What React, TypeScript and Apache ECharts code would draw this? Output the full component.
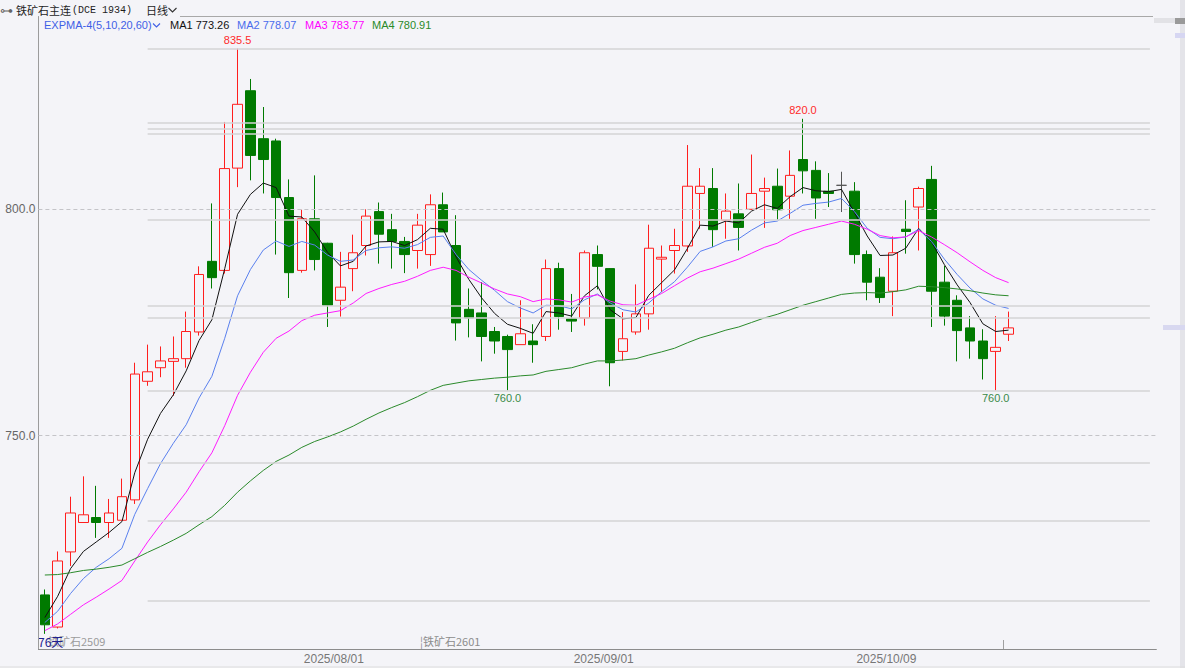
import React, { useEffect, useRef } from 'react';
import * as echarts from 'echarts';

// ---- categories (trading days) ----
const dates = [
  '2025/07/01','2025/07/02','2025/07/03','2025/07/04','2025/07/07','2025/07/08','2025/07/09','2025/07/10','2025/07/11','2025/07/14',
  '2025/07/15','2025/07/16','2025/07/17','2025/07/18','2025/07/21','2025/07/22','2025/07/23','2025/07/24','2025/07/25','2025/07/28',
  '2025/07/29','2025/07/30','2025/07/31','2025/08/01','2025/08/04','2025/08/05','2025/08/06','2025/08/07','2025/08/08','2025/08/11',
  '2025/08/12','2025/08/13','2025/08/14','2025/08/15','2025/08/18','2025/08/19','2025/08/20','2025/08/21','2025/08/22','2025/08/25',
  '2025/08/26','2025/08/27','2025/08/28','2025/08/29','2025/09/01','2025/09/02','2025/09/03','2025/09/04','2025/09/05','2025/09/08',
  '2025/09/09','2025/09/10','2025/09/11','2025/09/12','2025/09/15','2025/09/16','2025/09/17','2025/09/18','2025/09/19','2025/09/22',
  '2025/09/23','2025/09/24','2025/09/25','2025/09/26','2025/09/29','2025/09/30','2025/10/09','2025/10/10','2025/10/13','2025/10/14',
  '2025/10/15','2025/10/16','2025/10/17','2025/10/20','2025/10/21','2025/10/22'
];
// empty future slots on the right of the chart
const futureDates = ['2025/10/23','2025/10/24','2025/10/27','2025/10/28','2025/10/29','2025/10/30','2025/10/31','2025/11/03','2025/11/04','2025/11/05','2025/11/06'];
const dateLabels = ['2025/08/01', '2025/09/01', '2025/10/09'];

// ---- OHLC ----
const opens = [
  714.8, 707.7, 724.3, 730.8, 731.9, 730.8, 731.3, 735.8, 762.0, 765.0,
  766.4, 767.0, 772.9, 788.5, 786.5, 809.1, 826.2, 815.6, 815.1, 802.6,
  786.5, 797.9, 792.5, 779.9, 786.9, 792.0, 799.5, 795.5, 792.9, 790.9,
  790.0, 801.0, 792.0, 777.9, 777.1, 773.0, 771.9, 770.1, 770.9, 771.9,
  786.9, 775.8, 776.0, 790.0, 786.9, 768.6, 772.9, 776.9, 789.0, 790.9,
  791.9, 803.5, 804.6, 797.6, 799.0, 800.0, 804.0, 805.1, 802.9, 811.0,
  808.6, 804.0, 805.3, 804.0, 790.0, 785.0, 781.9, 795.6, 800.5, 806.6,
  783.9, 779.9, 773.8, 770.9, 768.6, 772.4
];
const closes = [
  708.2, 722.3, 732.9, 732.5, 730.8, 732.9, 736.5, 763.6, 764.1, 766.5,
  767.0, 773.0, 785.6, 784.9, 809.0, 823.2, 811.9, 811.0, 802.6, 786.0,
  797.9, 788.9, 778.8, 782.8, 790.4, 798.5, 794.5, 792.9, 790.0, 796.5,
  801.0, 795.0, 774.9, 776.0, 771.9, 770.9, 769.0, 772.5, 770.1, 786.9,
  776.3, 775.3, 790.4, 787.4, 766.1, 771.4, 776.9, 791.4, 789.4, 792.0,
  805.1, 805.1, 795.5, 799.6, 796.0, 803.5, 804.6, 799.9, 807.5, 808.5,
  802.5, 803.5, 805.3, 790.0, 783.9, 780.5, 790.4, 795.1, 804.6, 781.9,
  776.4, 773.2, 770.9, 767.0, 769.5, 773.8
];
const lows = [
  706.2, 707.4, 721.2, 730.8, 727.4, 727.4, 731.3, 734.9, 761.0, 762.9,
  758.8, 765.0, 772.1, 782.5, 785.8, 804.9, 806.4, 803.5, 790.0, 780.4,
  786.0, 786.5, 774.0, 776.3, 781.9, 789.8, 788.0, 786.9, 785.9, 786.9,
  787.5, 795.0, 771.0, 771.7, 766.4, 768.1, 760.0, 770.1, 766.1, 770.9,
  773.4, 772.9, 774.3, 782.3, 760.9, 766.6, 772.3, 773.4, 781.7, 785.8,
  790.6, 795.7, 791.7, 793.5, 790.9, 799.9, 795.9, 797.7, 797.9, 803.5,
  797.9, 800.5, 799.4, 788.0, 779.9, 779.3, 776.4, 790.2, 790.9, 774.0,
  774.3, 766.4, 767.0, 762.4, 760.0, 770.9
];
const highs = [
  716.0, 724.4, 736.5, 741.0, 738.9, 736.0, 740.5, 766.1, 770.1, 769.7,
  771.9, 777.4, 787.4, 801.3, 819.3, 835.5, 828.8, 822.6, 815.6, 806.6,
  799.9, 807.5, 792.6, 790.6, 794.4, 800.0, 801.5, 799.0, 793.9, 799.0,
  803.3, 803.7, 798.7, 782.5, 783.9, 774.0, 772.3, 779.9, 774.6, 788.9,
  788.2, 781.3, 790.9, 792.0, 787.0, 777.3, 783.4, 796.6, 792.0, 795.7,
  814.2, 809.1, 809.1, 803.5, 805.7, 812.1, 807.0, 809.0, 813.0, 820.0,
  810.6, 808.0, 808.3, 806.0, 790.9, 787.0, 794.0, 802.0, 805.0, 809.6,
  787.5, 781.0, 776.4, 773.5, 776.4, 777.4
];

// ---- EXPMA lines ----
const ma1 = [
  709.8, 714.5, 720.6, 724.4, 726.5, 728.6, 731.0, 741.8, 749.2, 754.9,
  759.0, 764.3, 771.0, 775.6, 786.9, 798.9, 803.3, 805.8, 804.8, 798.5,
  798.3, 795.0, 790.5, 787.5, 788.5, 791.9, 792.8, 792.9, 792.0, 793.3,
  795.8, 795.6, 789.5, 784.5, 780.4, 777.0, 774.6, 773.7, 772.6, 777.4,
  777.1, 776.4, 780.9, 783.1, 777.8, 775.8, 776.1, 781.0, 783.8, 786.6,
  791.3, 796.5, 796.3, 797.4, 797.0, 799.6, 801.0, 800.2, 802.8, 804.8,
  804.1, 803.9, 804.4, 799.3, 794.1, 789.8, 789.9, 791.4, 795.8, 792.8,
  787.8, 783.3, 779.4, 774.7, 773.0, 773.3
];
const ma2 = [
  708.7, 711.2, 715.1, 718.4, 720.9, 722.8, 725.1, 732.6, 738.3, 743.8,
  748.3, 752.4, 758.3, 763.1, 771.5, 780.9, 786.7, 791.0, 793.0, 791.8,
  792.9, 792.1, 789.9, 788.5, 788.8, 790.9, 791.5, 791.7, 791.4, 792.2,
  793.8, 794.1, 790.0, 786.7, 784.3, 782.1, 779.6, 778.2, 777.1, 778.8,
  778.7, 778.0, 780.0, 781.3, 779.3, 777.8, 777.3, 779.3, 781.8, 784.0,
  787.2, 790.7, 791.7, 793.0, 793.5, 795.4, 797.0, 797.4, 799.1, 800.9,
  801.3, 801.6, 802.4, 799.5, 795.8, 793.8, 793.5, 793.9, 795.6, 792.9,
  789.0, 785.6, 782.6, 780.2, 778.8, 778.1
];
const ma3 = [
  706.9, 708.4, 710.5, 712.6, 714.3, 716.1, 718.0, 722.3, 726.5, 730.3,
  733.8, 737.5, 742.0, 746.2, 752.2, 758.9, 764.0, 768.4, 771.5, 773.1,
  775.4, 776.6, 777.1, 777.6, 779.3, 781.4, 782.5, 783.4, 784.1, 785.2,
  786.5, 787.2, 786.5, 785.0, 783.7, 782.4, 781.3, 780.7, 779.6, 780.2,
  780.0, 779.5, 780.6, 781.1, 779.7, 778.9, 778.8, 780.1, 781.4, 783.1,
  784.8, 786.2, 787.0, 788.0, 789.0, 790.3, 791.6, 792.5, 794.2, 795.3,
  796.0, 796.7, 797.4, 796.7, 795.6, 794.2, 793.7, 793.9, 795.3, 793.9,
  792.2, 790.4, 788.4, 786.5, 784.9, 783.8
];
const ma4 = [
  719.2, 719.3, 719.7, 720.2, 720.5, 720.9, 721.4, 722.8, 724.2, 725.5,
  726.9, 728.4, 730.3, 732.1, 734.6, 737.5, 740.0, 742.3, 744.3, 745.7,
  747.4, 748.7, 749.7, 750.8, 752.1, 753.6, 755.0, 756.2, 757.3, 758.6,
  760.0, 761.1, 761.6, 762.1, 762.4, 762.7, 762.9, 763.2, 763.4, 764.2,
  764.6, 765.0, 765.8, 766.5, 766.5, 766.7, 767.0, 767.8, 768.5, 769.3,
  770.5, 771.6, 772.4, 773.3, 774.0, 775.0, 776.0, 776.8, 777.8, 778.8,
  779.6, 780.4, 781.2, 781.5, 781.6, 781.5, 781.8, 782.2, 783.0, 782.9,
  782.7, 782.4, 782.0, 781.5, 781.1, 780.9
];
const maNames = ['MA1', 'MA2', 'MA3', 'MA4'];
const maLast = [773.26, 778.07, 783.77, 780.91];

// ---- drawn levels ----
const levelStartIndex = 8;
const levels = [835.5, 819.2, 817.8, 816.8, 797.7, 778.7, 776.0, 760.0, 743.9, 731.2, 713.5];
const gridValues = [800, 750];
const peakIdx = [15, 59];
const troughIdx = [36, 74];

const CN = '"Noto Sans CJK SC", sans-serif';
const LAT = '"Liberation Sans", Arial, sans-serif';

export default function App() {
  const ref = useRef<HTMLDivElement>(null);
  useEffect(() => {
    document.body.style.margin = '0';
    const chart = echarts.init(ref.current!, null, { renderer: 'svg' });
    const cats = dates.concat(futureDates);
    const candles = dates.map((_, i) => [opens[i], closes[i], lows[i], highs[i]]);
    const maData = [ma1, ma2, ma3, ma4];
    const maColors = ['#111111', '#5a80ee', '#ff1cff', '#2b8a2b'];
    const maTextColors = ['#111111', '#4a6cec', '#ff00ff', '#2a8a2a'];
    const legendX = [170, 237, 305, 372];

    const levelLines: any[] = levels.map((v) => [
      { coord: [cats[levelStartIndex], v] },
      { coord: [cats[cats.length - 1], v] },
    ]);
    const dashLines: any[] = gridValues.map((v) => ({
      yAxis: v,
      lineStyle: { type: [4, 3], color: '#c4c4c8', width: 1 },
    }));

    const marks: any[] = [
      ...peakIdx.map((i) => ({
        coord: [dates[i], highs[i]],
        value: highs[i].toFixed(1),
        label: { position: 'top', distance: 3, color: '#ff2a2a' },
      })),
      ...troughIdx.map((i) => ({
        coord: [dates[i], lows[i]],
        value: lows[i].toFixed(1),
        label: { position: 'bottom', distance: 2, color: '#3a8a48' },
      })),
    ];

    const graphics: any[] = [
      // scrollbar / right side decorations
      { type: 'rect', shape: { x: 1180, y: 0, width: 5, height: 668 }, style: { fill: '#e4e4e9' }, silent: true },
      { type: 'rect', shape: { x: 1154, y: 18, width: 22, height: 5 }, style: { fill: '#e2e2e6' }, silent: true },
      { type: 'rect', shape: { x: 1175, y: 18, width: 10, height: 6 }, style: { fill: '#9a9a9a' }, silent: true },
      { type: 'rect', shape: { x: 1175, y: 33, width: 10, height: 5 }, style: { fill: '#d6d6f2' }, silent: true },
      { type: 'rect', shape: { x: 1163, y: 325, width: 22, height: 5 }, style: { fill: '#d8d8f0' }, silent: true },
      // frame lines
      { type: 'line', shape: { x1: 180, y1: 16.5, x2: 1153, y2: 16.5 }, style: { stroke: '#a8a8a8', lineWidth: 1 }, silent: true },
      { type: 'line', shape: { x1: 0, y1: 667, x2: 1185, y2: 667 }, style: { stroke: '#dcdcdc', lineWidth: 1 }, silent: true },
      { type: 'line', shape: { x1: 1003.5, y1: 640, x2: 1003.5, y2: 649 }, style: { stroke: '#a0a0a0', lineWidth: 1 }, silent: true },
      // title row
      { type: 'text', x: 0, y: 10, style: { text: '⊶', font: '13px "DejaVu Sans"', fill: '#666', textVerticalAlign: 'middle' } },
      { type: 'text', x: 16, y: 10, style: { text: '铁矿石主连', font: `11px ${CN}`, fill: '#1e1e1e', textVerticalAlign: 'middle' } },
      { type: 'text', x: 72, y: 10, style: { text: '(DCE 1934)', font: '10px "Liberation Mono", monospace', fill: '#1e1e1e', textVerticalAlign: 'middle' } },
      { type: 'text', x: 146, y: 10, style: { text: '日线', font: `11px ${CN}`, fill: '#1e1e1e', textVerticalAlign: 'middle' } },
      { type: 'polyline', shape: { points: [[168.5, 8], [172.5, 12], [176.5, 8]] }, style: { stroke: '#333', lineWidth: 1.1, fill: 'none' } },
      // legend row
      { type: 'text', x: 44, y: 25, style: { text: 'EXPMA-4(5,10,20,60)', font: `11px ${LAT}`, fill: '#3f60e6', textVerticalAlign: 'middle' } },
      { type: 'polyline', shape: { points: [[153, 23.5], [156.5, 27], [160, 23.5]] }, style: { stroke: '#3f60e6', lineWidth: 1.1, fill: 'none' } },
      ...maNames.map((n, i) => ({
        type: 'text', x: legendX[i], y: 25,
        style: { text: `${n} ${maLast[i].toFixed(2)}`, font: `11px ${LAT}`, fill: maTextColors[i], textVerticalAlign: 'middle' },
      })),
      // bottom-left contract notes
      { type: 'text', x: 48, y: 641, style: { text: '铁矿石2509', font: `11px ${CN}`, fill: '#9c9c9c', textVerticalAlign: 'middle' } },
      { type: 'text', x: 38, y: 641, style: { text: '76天', font: `12px ${CN}`, fill: '#20208e', textVerticalAlign: 'middle' } },
      { type: 'text', x: 420, y: 641, style: { text: '¦铁矿石2601', font: `11px ${CN}`, fill: '#8c8c8c', textVerticalAlign: 'middle' } },
    ];

    const option: any = {
      animation: false,
      backgroundColor: '#f4f4f8',
      grid: { left: 38.4, right: 28.65, top: 16.5, bottom: 19, containLabel: false },
      xAxis: {
        type: 'category',
        data: cats,
        boundaryGap: true,
        axisLine: { show: true, lineStyle: { color: '#8c8c8c', width: 1 } },
        axisTick: { show: false },
        splitLine: { show: false },
        axisLabel: {
          interval: 0,
          hideOverlap: false,
          formatter: (v: string) => (dateLabels.includes(v) ? v : ''),
          color: '#777',
          fontSize: 12,
          fontFamily: LAT,
          margin: 4,
          padding: [0, 13, 0, 0],
        },
      },
      yAxis: {
        type: 'value',
        min: 702.85,
        max: 842.6,
        position: 'left',
        axisLine: { show: true, lineStyle: { color: '#9c9c9c', width: 1 } },
        axisTick: { show: false },
        splitLine: { show: false },
        axisLabel: {
          customValues: gridValues,
          formatter: (v: number) => v.toFixed(1),
          color: '#666',
          fontSize: 12,
          fontFamily: LAT,
          margin: 3,
        },
      },
      series: [
        {
          type: 'line',
          name: 'levels',
          data: [],
          z: 1,
          silent: true,
          markLine: {
            silent: true,
            symbol: ['none', 'none'],
            animation: false,
            lineStyle: { color: '#d4d4d6', width: 1.5, type: 'solid' },
            label: { show: false },
            data: [...levelLines, ...dashLines],
          },
        },
        {
          type: 'candlestick',
          name: 'K',
          data: candles,
          barWidth: 10,
          z: 3,
          itemStyle: {
            color: 'transparent',
            color0: '#007a00',
            borderColor: '#ff1e1e',
            borderColor0: '#007a00',
            borderColorDoji: '#555555',
            borderWidth: 1,
          },
          markPoint: {
            symbol: 'circle',
            symbolSize: 1,
            animation: false,
            itemStyle: { color: 'transparent' },
            label: { show: true, fontSize: 11, fontFamily: LAT, formatter: '{c}' },
            data: marks,
          },
        },
        ...maData.map((d, i) => ({
          type: 'line',
          name: maNames[i],
          data: d,
          z: 4,
          symbol: 'none',
          smooth: false,
          silent: true,
          lineStyle: { color: maColors[i], width: 1 },
        })),
      ],
      graphic: { elements: graphics },
    };
    chart.setOption(option);
    return () => chart.dispose();
  }, []);
  return <div ref={ref} style={{ width: 1185, height: 668 }} />;
}
